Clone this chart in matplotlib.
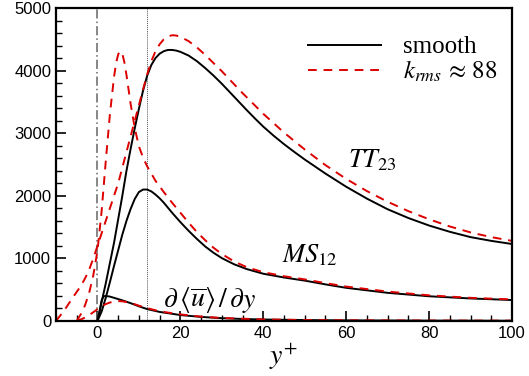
import matplotlib
matplotlib.use("Agg")
import matplotlib.pyplot as plt
from matplotlib.ticker import MultipleLocator

plt.rcParams['mathtext.fontset'] = 'stix'
plt.rcParams['font.family'] = ['Liberation Sans', 'DejaVu Sans']

# TT_23, smooth wall
tt_s_x = [0, 2, 4, 6, 7, 8, 9, 10, 11, 12, 13, 14, 15, 16, 17, 18, 19, 20, 22, 24, 26, 28,
          30, 32, 34, 36, 38, 40, 42.5, 45, 47.5, 50, 55, 60, 65, 70, 75, 80, 85, 90, 95, 100]
tt_s_y = [0, 600, 1250, 2000, 2400, 2750, 3080, 3390, 3680, 3920, 4090, 4200, 4270, 4310,
          4330, 4330, 4320, 4300, 4240, 4150, 4040, 3920, 3790, 3650, 3510, 3370, 3235, 3105,
          2960, 2825, 2700, 2580, 2355, 2145, 1955, 1785, 1645, 1525, 1425, 1340, 1280, 1230]
# TT_23, rough wall
tt_r_x = [-10, -8, -6, -4, -3, -2, -1, 0, 1, 2, 3, 4, 5, 6, 7, 8, 9, 10, 11, 12, 13, 14,
          15, 16, 17, 18, 19, 20, 22, 24, 26, 28, 30, 32, 35, 40, 45, 50, 55, 60, 65, 70,
          75, 80, 85, 90, 95, 100]
tt_r_y = [0, 170, 370, 560, 680, 820, 1000, 1200, 1400, 1600, 1800, 2000, 2200, 2450, 2700,
          2950, 3200, 3450, 3700, 3940, 4150, 4310, 4420, 4500, 4545, 4565, 4560, 4540, 4470,
          4370, 4250, 4120, 3990, 3850, 3640, 3310, 3010, 2740, 2490, 2270, 2075, 1905, 1755,
          1625, 1510, 1415, 1340, 1280]
# MS_12, smooth wall
ms_s_x = [0, 1, 2, 3, 4, 5, 6, 7, 8, 9, 10, 11, 12, 13, 14, 15, 16, 17, 18, 20, 22, 24,
          26, 28, 30, 33, 36, 40, 45, 50, 55, 60, 70, 80, 90, 100]
ms_s_y = [0, 150, 370, 620, 880, 1130, 1380, 1600, 1790, 1950, 2060, 2100, 2100, 2070, 2020,
          1960, 1890, 1810, 1730, 1580, 1440, 1310, 1190, 1090, 1005, 905, 830, 755, 695, 645,
          585, 530, 450, 395, 360, 335]
# MS_12, rough wall
ms_r_x = [-5, -4, -3, -2, -1, 0, 1, 2, 3, 4, 4.5, 5, 5.5, 6, 6.5, 7, 8, 9, 10, 11, 12, 14,
          16, 18, 20, 22, 24, 26, 28, 30, 33, 36, 40, 45, 50, 55, 60, 70, 80, 90, 100]
ms_r_y = [0, 110, 250, 450, 730, 1120, 1750, 2550, 3300, 3900, 4120, 4260, 4310, 4270, 4130,
          3930, 3470, 3080, 2790, 2610, 2470, 2240, 2060, 1890, 1730, 1570, 1420, 1290, 1170,
          1070, 950, 860, 780, 715, 665, 605, 550, 470, 410, 370, 345]
# d<u>/dy
du_s_x = [0, 0.5, 1, 1.5, 2, 3, 4, 5, 6, 8, 10, 12, 15, 20, 25, 30, 35, 40, 50, 60, 80, 100]
du_s_y = [0, 150, 330, 395, 400, 390, 370, 350, 330, 285, 235, 190, 145, 95, 65, 45, 32, 24,
          15, 10, 6, 4]
du_r_x = [-5, -4, -3, -2, -1, 0, 1, 2, 3, 4, 5, 6, 8, 10, 12, 15, 20, 25, 30, 40, 50, 60, 80, 100]
du_r_y = [0, 25, 55, 95, 140, 190, 235, 270, 295, 310, 318, 315, 290, 245, 205, 155, 105, 70,
          48, 25, 16, 11, 7, 5]

red = '#dd0000'
fig = plt.figure(figsize=(5.29, 3.76), dpi=100)
ax = fig.add_axes([56 / 529, 1 - 321 / 376, (512 - 56) / 529, (321 - 8) / 376])

ax.axvline(0, color='#666666', lw=1.1, ls=(0, (6, 2, 1, 2)))
ax.axvline(12, color='#555555', lw=0.7, ls=(0, (1, 1)))

dash = (0, (4.5, 3.5))
ax.plot(tt_s_x, tt_s_y, color='black', lw=1.4, label='smooth')
ax.plot(tt_r_x, tt_r_y, color=red, lw=1.4, ls=dash, label=r'$k_{rms}\,\approx\,88$')
ax.plot(ms_s_x, ms_s_y, color='black', lw=1.4)
ax.plot(ms_r_x, ms_r_y, color=red, lw=1.4, ls=dash)
ax.plot(du_s_x, du_s_y, color='black', lw=1.4)
ax.plot(du_r_x, du_r_y, color=red, lw=1.4, ls=dash)

ax.text(60.5, 2570, r'$TT_{23}$', fontsize=19, va='center', ha='left')
ax.text(44.5, 1050, r'$MS_{12}$', fontsize=19, va='center', ha='left')
ax.text(15.8, 335, r'$\partial\,\langle\overline{u}\rangle\,/\,\partial y$', fontsize=20,
        va='center', ha='left')

ax.set_xlim(-10, 100)
ax.set_ylim(0, 5000)
ax.xaxis.set_major_locator(MultipleLocator(20))
ax.xaxis.set_minor_locator(MultipleLocator(5))
ax.yaxis.set_major_locator(MultipleLocator(1000))
ax.yaxis.set_minor_locator(MultipleLocator(200))
ax.tick_params(which='both', direction='in', top=False, right=False, labelsize=12)
ax.tick_params(which='major', length=7, width=1.2)
ax.tick_params(which='minor', length=4, width=1)
for s in ax.spines.values():
    s.set_linewidth(1.6)

ax.set_xlabel(r'$y^{+}$', fontsize=20, labelpad=0)

leg = ax.legend(loc='upper right', bbox_to_anchor=(1.012, 0.975), frameon=False,
                prop={'family': 'Liberation Serif', 'size': 18}, handlelength=2.9,
                handletextpad=0.9, labelspacing=0.0, borderpad=0.3)

fig.savefig('out.png', dpi=100)
